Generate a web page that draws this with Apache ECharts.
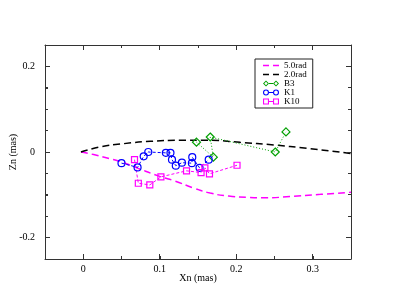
<!DOCTYPE html>
<html>
<head>
<meta charset="utf-8">
<script src="https://cdn.jsdelivr.net/npm/echarts@6/dist/echarts.min.js"></script>
<style>
html,body{margin:0;padding:0;background:#fff;}
#c{width:395px;height:305px;}
</style>
</head>
<body>
<div id="c"></div>
<script>
// ---- data ----
const rad5X = [-0.003, 0.0135, 0.035, 0.048, 0.070, 0.100, 0.120, 0.144, 0.166, 0.190, 0.214, 0.240, 0.270, 0.310, 0.350];
const rad5Y = [0.000, -0.006, -0.016, -0.022, -0.037, -0.057, -0.068, -0.084, -0.096, -0.103, -0.106, -0.107, -0.104, -0.099, -0.094];
const rad2X = [-0.003, 0.022, 0.053, 0.088, 0.127, 0.162, 0.205, 0.249, 0.292, 0.350];
const rad2Y = [0.000, 0.0117, 0.0195, 0.025, 0.0273, 0.0273, 0.0226, 0.0164, 0.0086, -0.0035];
const b3X = [0.148, 0.170, 0.166, 0.251, 0.265];
const b3Y = [0.023, -0.012, 0.035, 0.000, 0.047];
const k1X = [0.050, 0.071, 0.079, 0.085, 0.108, 0.114, 0.116, 0.121, 0.129, 0.142, 0.1425, 0.152, 0.164];
const k1Y = [-0.026, -0.036, -0.010, 0.000, -0.002, -0.002, -0.018, -0.032, -0.025, -0.026, -0.012, -0.037, -0.018];
const k10X = [0.067, 0.072, 0.087, 0.1015, 0.135, 0.154, 0.159, 0.165, 0.201];
const k10Y = [-0.018, -0.073, -0.077, -0.058, -0.044, -0.048, -0.037, -0.051, -0.031];
const seriesNames = ['5.0rad', '2.0rad', 'B3', 'K1', 'K10'];
const xTickVals = [0, 0.05, 0.1, 0.15, 0.2, 0.25, 0.3];
const xMajor = [0, 0.1, 0.2, 0.3];
const yTickVals = [-0.2, -0.15, -0.1, -0.05, 0, 0.05, 0.1, 0.15, 0.2];
const yMajor = [-0.2, 0, 0.2];

const zip = (a, b) => a.map((v, i) => [v, b[i]]);
const FONT = 'Liberation Serif';
const AX = '#333';
const X0 = -0.05, X1 = 0.35, Y0 = -0.25, Y1 = 0.25;
const isMult = (v, m) => Math.abs(v / m - Math.round(v / m)) < 1e-6;
const crisp = p => Math.round(p - 0.5) + 0.5;

const xMain = {
  type: 'value', position: 'bottom', min: X0, max: X1, interval: 0.05,
  name: 'Xn (mas)', nameLocation: 'middle', nameGap: 14, nameMoveOverlap: false,
  nameTextStyle: {fontFamily: FONT, fontSize: 10, color: '#000'},
  axisLine: {show: true, onZero: false, lineStyle: {color: AX, width: 1}},
  axisTick: {show: true, inside: true, length: 3, lineStyle: {color: AX, width: 1}},
  axisLabel: {show: true, showMinLabel: true, showMaxLabel: true, fontFamily: FONT, fontSize: 10, color: '#000', margin: 5,
    formatter: v => isMult(v, 0.1) ? String(Math.round(v * 10) / 10) : ''},
  splitLine: {show: false}
};
const xTop = {
  type: 'value', position: 'top', min: X0, max: X1,
  axisLine: {show: true, onZero: false, lineStyle: {color: AX, width: 1}},
  axisTick: {show: false}, axisLabel: {show: false}, splitLine: {show: false}
};
const yMain = {
  type: 'value', position: 'left', min: Y0, max: Y1, interval: 0.05,
  name: 'Zn (mas)', nameLocation: 'middle', nameGap: 27, nameMoveOverlap: false,
  nameTextStyle: {fontFamily: FONT, fontSize: 10, color: '#000'},
  axisLine: {show: true, onZero: false, lineStyle: {color: AX, width: 1}},
  axisTick: {show: true, inside: true, length: 3, lineStyle: {color: AX, width: 1}},
  axisLabel: {show: true, fontFamily: FONT, fontSize: 10, color: '#000', margin: 10,
    formatter: v => isMult(v, 0.2) ? String(Math.round(v * 10) / 10) : ''},
  splitLine: {show: false}
};
const yRight = {
  type: 'value', position: 'right', min: Y0, max: Y1,
  axisLine: {show: true, onZero: false, lineStyle: {color: AX, width: 1}},
  axisTick: {show: false}, axisLabel: {show: false}, splitLine: {show: false}
};

// inward ticks on all four sides, placed through the axis scales
function tickSeries(vals, major, isX) {
  const isMaj = v => major.some(m => Math.abs(m - v) < 1e-9);
  return {
    type: 'custom', silent: true, clip: false, z: 5,
    xAxisIndex: 0, yAxisIndex: 0,
    encode: isX ? {x: 0} : {y: 0},
    data: vals.map(v => [v, isMaj(v) ? 1 : 0]),
    renderItem: (params, api) => {
      const st = {stroke: AX, lineWidth: 1, fill: null};
      const v = api.value(0), L = api.value(1) ? 5 : 3;
      if (isX) {
        const b = api.coord([v, Y0]), t = api.coord([v, Y1]);
        const x = crisp(b[0]);
        return {type: 'group', children: [
          {type: 'line', shape: {x1: x, y1: Math.round(b[1]), x2: x, y2: Math.round(b[1]) - L}, style: st},
          {type: 'line', shape: {x1: x, y1: Math.round(t[1]), x2: x, y2: Math.round(t[1]) + L}, style: st}
        ]};
      } else {
        const l = api.coord([X0, v]), r = api.coord([X1, v]);
        const y = crisp(l[1]);
        return {type: 'group', children: [
          {type: 'line', shape: {x1: Math.round(l[0]), y1: y, x2: Math.round(l[0]) + L, y2: y}, style: st},
          {type: 'line', shape: {x1: Math.round(r[0]), y1: y, x2: Math.round(r[0]) - L, y2: y}, style: st}
        ]};
      }
    }
  };
}

// legend icons: marker-line-marker, as outlines
const P = {
  dash: 'path://M0 0L16 0L0 0Z M0 6L16 6L0 6Z M0 2.3L6 2.3L6 3.7L0 3.7Z M10 2.3L16 2.3L16 3.7L10 3.7Z',
  diamond: 'path://M0 3L3 0L6 3L3 6Z M1.3 3L3 4.7L4.7 3L3 1.3Z M6 2.6L10 2.6L10 3.4L6 3.4Z M10 3L13 0L16 3L13 6Z M11.3 3L13 4.7L14.7 3L13 1.3Z',
  circle: 'path://M0 3A3 3 0 1 1 6 3A3 3 0 1 1 0 3Z M1.1 3A1.9 1.9 0 1 0 4.9 3A1.9 1.9 0 1 0 1.1 3Z M6 2.6L10 2.6L10 3.4L6 3.4Z M10 3A3 3 0 1 1 16 3A3 3 0 1 1 10 3Z M11.1 3A1.9 1.9 0 1 0 14.9 3A1.9 1.9 0 1 0 11.1 3Z',
  square: 'path://M0 0L6 0L6 6L0 6Z M1.1 1.1L1.1 4.9L4.9 4.9L4.9 1.1Z M6 2.6L10 2.6L10 3.4L6 3.4Z M10 0L16 0L16 6L10 6Z M11.1 1.1L11.1 4.9L14.9 4.9L14.9 1.1Z'
};
const legendColors = ['#ff00ff', '#000000', '#00a000', '#0000ff', '#ff00ff'];
const legendIcons = [P.dash, P.dash, P.diamond, P.circle, P.square];

const chart = echarts.init(document.getElementById('c'), null, {renderer: 'canvas'});
chart.setOption({
  animation: false,
  backgroundColor: '#fff',
  grid: {left: 45, right: 44, top: 45, bottom: 46, containLabel: false, outerBoundsMode: 'none'},
  xAxis: [xMain, xTop],
  yAxis: [yMain, yRight],
  legend: {
    orient: 'vertical', left: 255, top: 59,
    data: seriesNames.map((n, i) => ({name: n, icon: legendIcons[i],
      itemStyle: {color: legendColors[i], borderWidth: 0, opacity: 1}})),
    backgroundColor: '#fff', borderColor: '#222', borderWidth: 1, borderRadius: 0,
    padding: [2, 6, 2, 8], itemGap: 0, itemWidth: 16, itemHeight: 6,
    textStyle: {fontFamily: FONT, fontSize: 9, color: '#000', lineHeight: 9}
  },
  series: [
    tickSeries(xTickVals, xMajor, true),
    tickSeries(yTickVals, yMajor, false),
    {name: seriesNames[0], type: 'line', smooth: true, showSymbol: false, symbol: 'none',
     data: zip(rad5X, rad5Y), lineStyle: {color: '#ff00ff', width: 1.5, type: [7, 4]}, itemStyle: {color: '#ff00ff'}},
    {name: seriesNames[1], type: 'line', smooth: true, showSymbol: false, symbol: 'none',
     data: zip(rad2X, rad2Y), lineStyle: {color: '#000', width: 1.5, type: [7, 4]}, itemStyle: {color: '#000'}},
    {name: seriesNames[2], type: 'line', symbol: 'diamond', symbolSize: 8,
     data: zip(b3X, b3Y), lineStyle: {color: '#00a000', width: 1, type: [1, 2]},
     itemStyle: {color: 'rgba(0,0,0,0)', borderColor: '#00a000', borderWidth: 1.2}},
    {name: seriesNames[3], type: 'line', symbol: 'circle', symbolSize: 7,
     data: zip(k1X, k1Y), lineStyle: {color: '#0000ff', width: 1, type: [3, 2]},
     itemStyle: {color: 'rgba(0,0,0,0)', borderColor: '#0000ff', borderWidth: 1.2}},
    {name: seriesNames[4], type: 'line', symbol: 'rect', symbolSize: 6,
     data: zip(k10X, k10Y), lineStyle: {color: '#ff00ff', width: 1, type: [3, 2]},
     itemStyle: {color: 'rgba(0,0,0,0)', borderColor: '#ff00ff', borderWidth: 1.2}}
  ]
});
</script>
</body>
</html>
